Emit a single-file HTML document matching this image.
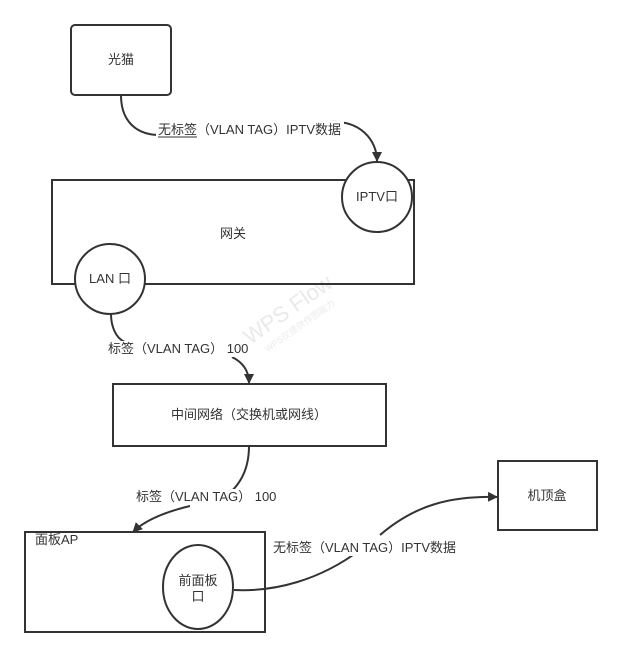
<!DOCTYPE html>
<html><head><meta charset="utf-8"><style>
body{margin:0;background:#fff;}
svg text{font-family:"Liberation Sans","Noto Sans CJK SC",sans-serif;font-size:13px;fill:#333;}
</style></head><body>
<svg width="622" height="657" viewBox="0 0 622 657" xmlns="http://www.w3.org/2000/svg">
<defs><marker id="a" markerWidth="10" markerHeight="10" refX="9" refY="5" orient="auto" markerUnits="userSpaceOnUse"><path d="M0,0 L10,5 L0,10 z" fill="#333"/></marker></defs>
<g stroke="#333" stroke-width="2" fill="none">
<rect x="71" y="25" width="100" height="70" rx="4" fill="#fff"/>
<rect x="52" y="180" width="362" height="104" fill="#fff"/>
<rect x="113" y="384" width="273" height="62" fill="#fff"/>
<rect x="25" y="532" width="240" height="100" fill="#fff"/>
<rect x="498" y="461" width="99" height="69" fill="#fff"/>
<circle cx="377" cy="197" r="35" fill="#fff"/>
<circle cx="110" cy="279" r="35" fill="#fff"/>
<ellipse cx="198" cy="587" rx="35" ry="42" fill="#fff"/>
<path d="M121,95 C121,120 135,135 160,135 L330,122 C360,120 377,140 377,161" marker-end="url(#a)"/>
<path d="M111,314 C111,325 115,338 125,342"/>
<path d="M232,357 C242,362 249,370 249,383" marker-end="url(#a)"/>
<path d="M249,446 C249,470 240,488 218,502"/>
<path d="M190,506 C165,512 145,520 133,532" marker-end="url(#a)"/>
<path d="M234,590 C275,592 320,580 360,550"/>
<path d="M380,535 C415,505 450,496 497,497" marker-end="url(#a)"/>
</g>
<rect x="156" y="121" width="188" height="16" fill="#fff"/>
<rect x="106" y="341" width="150" height="16" fill="#fff"/>
<rect x="134" y="489" width="150" height="16" fill="#fff"/>
<rect x="270" y="540" width="192" height="16" fill="#fff"/>
<text x="121" y="64" text-anchor="middle">光猫</text>
<text x="233" y="238" text-anchor="middle">网关</text>
<text x="377" y="201" text-anchor="middle">IPTV口</text>
<text x="110" y="283" text-anchor="middle">LAN 口</text>
<text x="249" y="419" text-anchor="middle">中间网络（交换机或网线）</text>
<text x="547" y="500" text-anchor="middle">机顶盒</text>
<text x="35" y="544">面板AP</text>
<text x="198" y="585" text-anchor="middle">前面板</text>
<text x="198" y="601" text-anchor="middle">口</text>
<text x="158" y="134">无标签（VLAN TAG）IPTV数据</text>
<line x1="158" y1="137" x2="197" y2="137" stroke="#333" stroke-width="1"/>
<text x="108" y="353">标签（VLAN TAG） 100</text>
<text x="136" y="501">标签（VLAN TAG） 100</text>
<text x="273" y="552">无标签（VLAN TAG）IPTV数据</text>
<g transform="translate(250,345) rotate(-35)" opacity="0.1">
<text x="0" y="0" style="font-size:22px">WPS Flow</text>
<text x="10" y="16" style="font-size:9px">WPS仅提供作图能力</text>
</g>
</svg>
</body></html>
